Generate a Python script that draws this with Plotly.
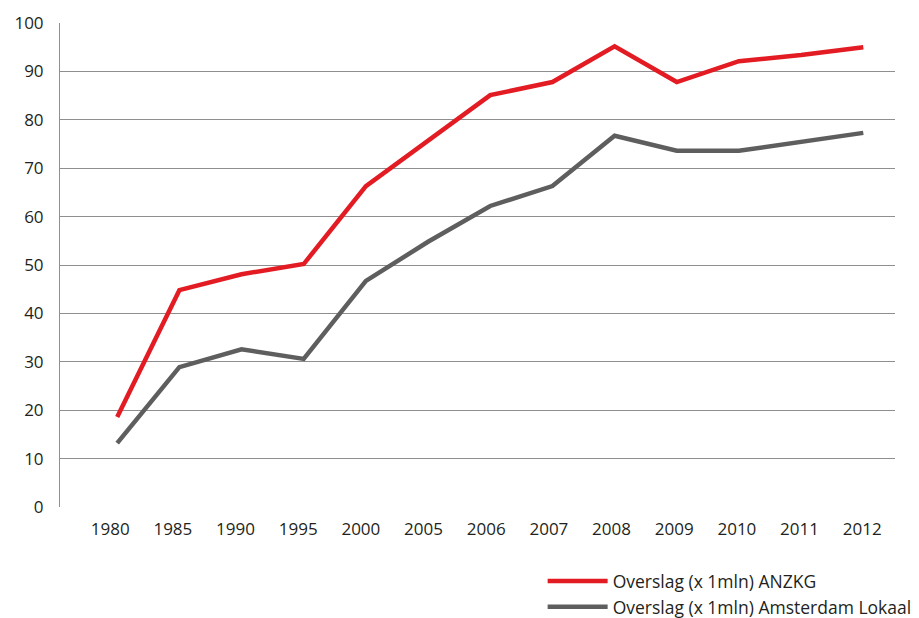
import plotly.graph_objects as go

years = ["1980", "1985", "1990", "1995", "2000", "2005", "2006", "2007", "2008", "2009", "2010", "2011", "2012"]
anzkg = [18.6, 44.8, 48.1, 50.2, 66.3, 75.8, 85.1, 87.8, 95.2, 87.8, 92.1, 93.4, 95.0]
amsterdam = [13.2, 28.9, 32.6, 30.6, 46.7, 54.8, 62.2, 66.3, 76.7, 73.6, 73.6, 75.4, 77.3]
y_ticks = list(range(0, 101, 10))

idx = list(range(len(years)))
font = "'Open Sans', sans-serif"

fig = go.Figure()
fig.add_trace(go.Scatter(x=idx, y=anzkg, mode="lines", name="Overslag (x 1mln) ANZKG",
                         line=dict(color="#e31b23", width=4.5)))
fig.add_trace(go.Scatter(x=idx, y=amsterdam, mode="lines", name="Overslag (x 1mln) Amsterdam Lokaal",
                         line=dict(color="#5e5e5e", width=4.5)))

fig.update_layout(
    width=911, height=610,
    margin=dict(l=52, r=24, t=15, b=111, autoexpand=False),
    paper_bgcolor="white", plot_bgcolor="white",
    font=dict(family=font, size=17, color="#231f20"),
    showlegend=True,
    legend=dict(x=0.578, y=-0.116, xanchor="left", yanchor="top", orientation="v",
                font=dict(size=17.5, color="#231f20"), tracegroupgap=0, itemwidth=60,
                bgcolor="rgba(0,0,0,0)"),
    xaxis=dict(tickmode="array", tickvals=[i * 1.008 - 0.113 for i in idx], ticktext=years,
               range=[-0.92, 12.51], showgrid=False, zeroline=False,
               showline=False, ticks="", ticklabelstandoff=10, tickangle=0,
               tickfont=dict(size=17)),
    yaxis=dict(range=[0, 100], tickvals=y_ticks, showgrid=True, gridcolor="#8f8f8f",
               gridwidth=1, zeroline=False, showline=True, linecolor="#8f8f8f",
               linewidth=1, ticks="", ticklabelstandoff=12, tickfont=dict(size=17)),
)
fig.write_html("out.html")
